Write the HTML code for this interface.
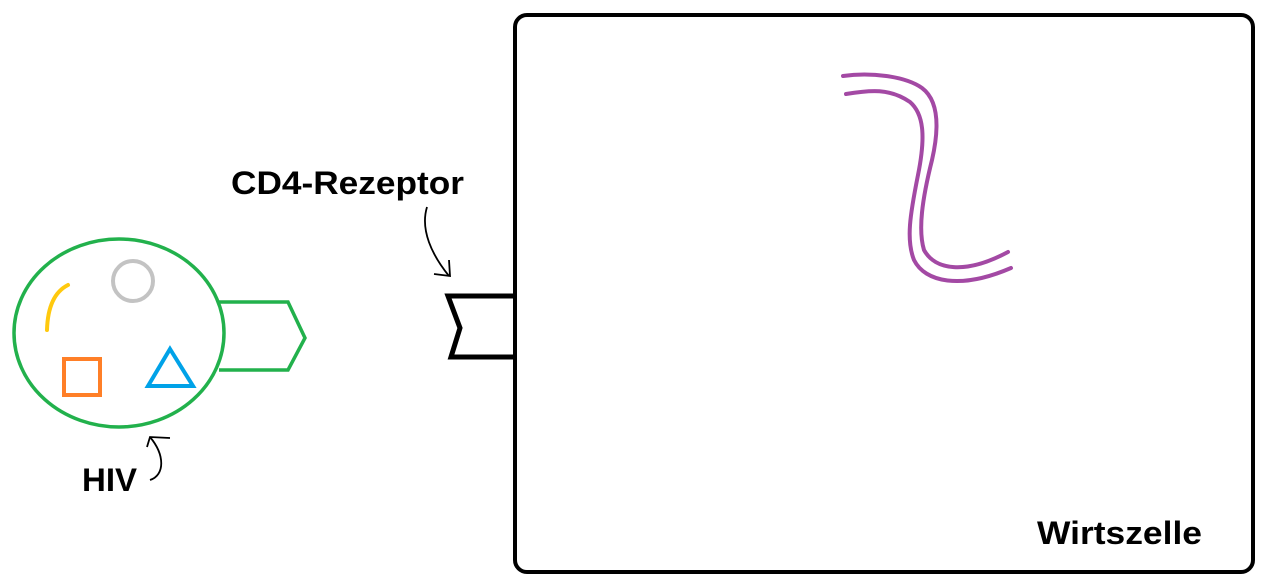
<!DOCTYPE html>
<html><head><style>
html,body{margin:0;padding:0;background:#fff;}
svg{display:block;}
text{font-family:"Liberation Sans",sans-serif;font-weight:bold;fill:#000;}
</style></head><body>
<svg width="1275" height="588" viewBox="0 0 1275 588" xmlns="http://www.w3.org/2000/svg">
<rect x="515" y="15" width="738" height="557" rx="12" fill="none" stroke="#000" stroke-width="4"/>
<polyline points="514,296 448,296 460,328 451,357 514,357" fill="none" stroke="#000" stroke-width="5" stroke-linejoin="miter"/>
<ellipse cx="119" cy="333" rx="105" ry="94" fill="none" stroke="#22b14c" stroke-width="3.5"/>
<polyline points="219,302 288,302 305,338 288,370 219,370" fill="none" stroke="#22b14c" stroke-width="3.5"/>
<circle cx="133" cy="281" r="20" fill="none" stroke="#c3c3c3" stroke-width="4"/>
<path d="M68,285 Q48,295 47,330" fill="none" stroke="#ffc90e" stroke-width="4" stroke-linecap="round"/>
<rect x="64" y="359" width="36" height="36" fill="none" stroke="#ff7f27" stroke-width="4"/>
<polygon points="170,349 193,386 148,386" fill="none" stroke="#00a2e8" stroke-width="4" stroke-linejoin="miter"/>
<path d="M843,76 C870,72 905,76 922,88 C938,100 940,125 932,160 C922,200 918,230 924,250 C935,270 965,275 1008,252" fill="none" stroke="#a349a4" stroke-width="4" stroke-linecap="round"/>
<path d="M846,94 C870,90 890,88 910,102 C925,115 925,140 918,175 C910,215 906,240 914,260 C925,282 960,290 1011,268" fill="none" stroke="#a349a4" stroke-width="4" stroke-linecap="round"/>
<path d="M427,207 C420,230 432,255 449,276" fill="none" stroke="#000" stroke-width="1.8"/>
<path d="M434,274 L450,276 L449,260" fill="none" stroke="#000" stroke-width="1.8"/>
<path d="M150,480 C165,475 165,455 150,437" fill="none" stroke="#000" stroke-width="1.8"/>
<path d="M147,447 L150,437 L170,438" fill="none" stroke="#000" stroke-width="1.8"/>
<text x="231" y="194" font-size="32" textLength="233" lengthAdjust="spacingAndGlyphs">CD4-Rezeptor</text>
<text x="82" y="491" font-size="32" textLength="55" lengthAdjust="spacingAndGlyphs">HIV</text>
<text x="1037" y="544" font-size="32" textLength="165" lengthAdjust="spacingAndGlyphs">Wirtszelle</text>
</svg>
</body></html>
